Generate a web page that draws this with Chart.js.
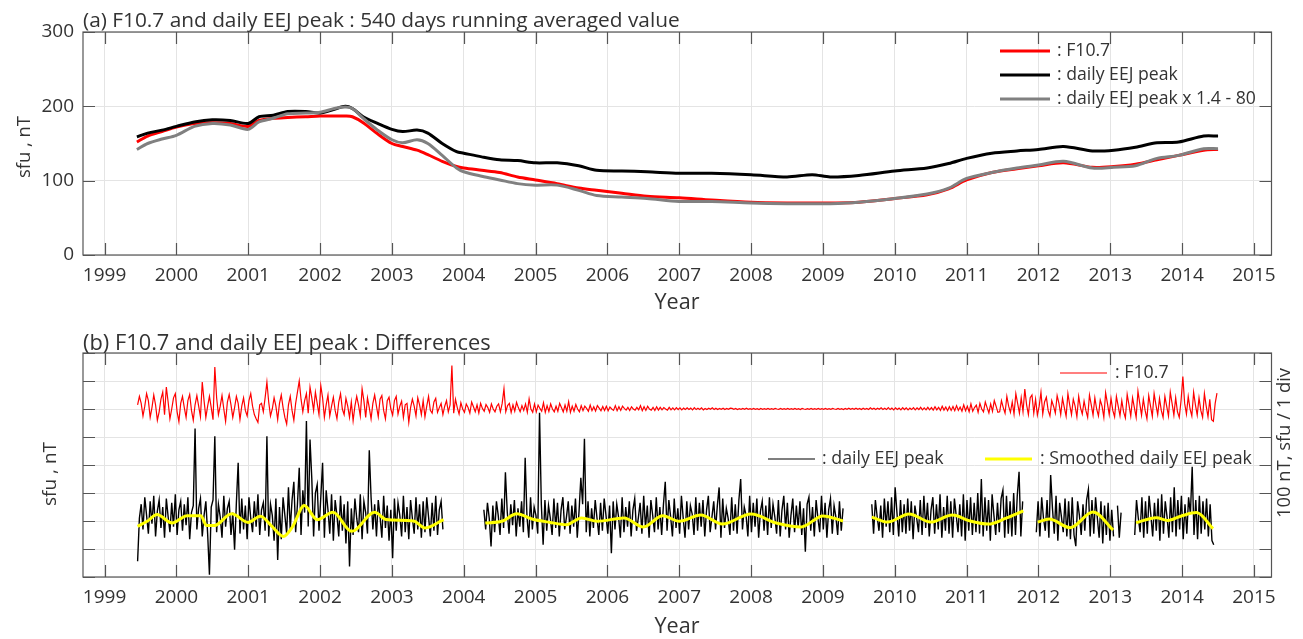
<!DOCTYPE html>
<html>
<head>
<meta charset="utf-8">
<script src="https://cdn.jsdelivr.net/npm/chart.js@4.4.1/dist/chart.umd.min.js"></script>
<style>
  html, body { margin: 0; padding: 0; background: #fff; }
  #wrap { position: relative; width: 1303px; height: 639px; overflow: hidden; }
  canvas { position: absolute; left: 0; }
  #topChart { top: 0; }
  #botChart { top: 320px; }
</style>
</head>
<body>
<div id="wrap">
  <canvas id="topChart" width="1303" height="320"></canvas>
  <canvas id="botChart" width="1303" height="319"></canvas>
</div>
<script>
// ---- data ----
const yearTicks = [1999, 2000, 2001, 2002, 2003, 2004, 2005, 2006, 2007, 2008, 2009, 2010, 2011, 2012, 2013, 2014, 2015];
const topYTicks = [0, 100, 200, 300];
const diffYTicks = [0, 100, 200, 300, 400, 500, 600, 700, 800];

// (a) 540 day running averages
const avgYears = [1999.45, 1999.6, 1999.8, 2000.0, 2000.25, 2000.5, 2000.75, 2001.0, 2001.15, 2001.35,
  2001.55, 2001.8, 2002.0, 2002.2, 2002.35, 2002.45, 2002.6, 2002.8, 2003.0, 2003.15,
  2003.35, 2003.5, 2003.7, 2003.9, 2004.0, 2004.25, 2004.5, 2004.75, 2005.0, 2005.3,
  2005.6, 2005.85, 2006.2, 2006.55, 2007.0, 2007.45, 2008.0, 2008.5, 2008.85, 2009.1,
  2009.5, 2010.0, 2010.45, 2010.75, 2011.0, 2011.35, 2011.7, 2012.0, 2012.35, 2012.75,
  2013.05, 2013.35, 2013.65, 2013.95, 2014.3, 2014.5];
const f107Avg = [152, 160, 166, 172, 177, 178, 177, 173, 181, 184,
  185, 186, 187, 187, 187, 186, 178, 163, 150, 146,
  141, 135, 126, 119, 117, 114, 111, 105, 101, 96,
  90, 87, 83, 79, 77, 74, 71, 70, 70, 70,
  71, 76, 81, 89, 101, 111, 116, 120, 124, 118,
  119, 122, 128, 134, 141, 142];
const eejAvg = [159, 164, 168, 173, 179, 182, 181, 177, 186, 188,
  193, 193, 191, 196, 200, 197, 186, 177, 169, 166,
  168, 164, 150, 139, 137, 132, 128, 127, 124, 124,
  120, 114, 113, 112, 110, 110, 108, 105, 108, 105,
  107, 113, 117, 123, 130, 137, 140, 142, 146, 140,
  141, 145, 151, 152, 160, 160];
const eejScaledAvg = [142, 150, 156, 161, 173, 177, 175, 169, 179, 184,
  190, 191, 192, 197, 199, 197, 184, 168, 155, 151,
  155, 150, 134, 117, 112, 106, 101, 96, 94, 94,
  87, 80, 78, 76, 72, 72, 70, 69, 69, 69,
  71, 76, 82, 90, 103, 111, 117, 121, 126, 117,
  118, 120, 130, 134, 143, 143];

// (b) differences, one value every 0.025 yr
const diffStep = 0.025;
const f107Start = 1999.46;
const f107Diff = [
  15, 45, 20, -25, 10, 55, 30, -30, 5, 50, 15, -40, -10, 35, 60, -20, 78, 25, -35, 0,
  40, 55, -10, -45, 20, 45, 5, -30, 30, 52, -5, -40, 15, 48, 10, -28, 96, 30, -30, 10,
  45, 5, -38, 150, 40, -20, 10, 48, 0, -44, 25, 52, 15, -30, 5, 45, 20, -38, 10, 40,
  -5, -25, 30, 55, 10, -20, -35, -48, 15, 20, -10, 40, 96, 25, -25, 0, 40, 10, -38, 20,
  50, 5, -30, -54, 15, 45, -5, -40, 20, 60, 100, 35, -10, 30, 55, -15, 78, 40, -5, 60,
  20, -20, 84, 40, -30, 15, 50, -25, 10, 42, -5, -35, 25, 55, 0, -20, 38, 10, -30, 25,
  -42, 10, 45, 15, -25, 72, 30, -30, 40, 5, -35, 20, 50, 10, -28, 35, 48, -5, -35, 30,
  42, 0, -22, 30, 45, -18, 10, 28, -30, 15, 20, -48, 5, 35, 10, -25, 40, 15, -20, 30,
  -28, 10, 45, -5, -15, 25, 38, -12, 5, 20, -20, 10, 30, -10, 15, 155, -15, 35, 5, -18,
  22, 0, -12, 18, 5, -15, 25, 8, -10, 15, -14, 20, 2, -8, 16, 5, -12, 18, 0, -10,
  10, 18, -10, 20, 72, -10, 12, 20, -12, 15, -8, 24, 5, -10, 12, -5, 18, -12, 36, 0,
  -12, 18, -10, 14, 2, -8, 22, -12, 12, -9, 18, 0, -10, 10, -8, 20, 5, -10, 14, -8,
  26, -12, 10, -8, 16, 0, -10, 12, -6, 10, 2, -8, 14, -6, 8, -7, 12, 3, -6, 9,
  -5, 10, -6, 7, 0, -5, 12, -6, 8, -5, 10, 2, -4, 6, -5, 8, 0, -4, 6, -3,
  12, -6, 8, -5, 10, 0, -4, 6, -5, 8, -4, 6, -3, 5, 0, -4, 6, -3, 4, -3,
  5, -2, 4, -3, 3, -2, 4, -2, 3, -3, 5, -2, 3, -2, 4, -3, 2, -2, 3, -1,
  4, -2, 3, -2, 2, -1, 3, -2, 2, -1, 3, 2, -1, 2, -2, 1, -1, 2, -1, 3,
  -1, 1, -1, 2, -1, 1, -2, 2, -1, 1, -1, 2, -1, 1, -1, 2, 0, -1, 2, -1,
  1, -1, 2, -1, 1, -1, 2, -1, 1, -2, 2, 0, -1, 1, -1, 2, -1, 1, -1, 2,
  -1, 1, -1, 2, -1, 1, -1, 2, 0, -1, 2, -1, 1, -2, 2, -1, 3, -1, 2, -1,
  3, -1, 2, -2, 3, -1, 2, -2, 4, -1, 3, -2, 3, -1, 4, -2, 3, -2, 5, -2,
  3, -3, 4, -2, 3, -3, 5, -2, 4, -3, 3, -2, 5, -3, 4, -2, 6, -3, 4, -3,
  6, -3, 5, -4, 8, -3, 6, -5, 10, -4, 7, -6, 8, -5, 9, -6, 12, -5, 7, -8,
  15, -6, 10, -10, 18, -8, 5, 14, -12, 20, 0, -10, 25, 5, -14, 18, -8, 30, 10, -12,
  -10, 30, 5, -15, 45, 10, -12, 25, -18, 55, 20, -15, 40, -10, 71, 15, -20, 40, 50, -15,
  35, -22, 10, 60, -18, 25, 42, -5, -25, 30, 10, -15, 48, 20, -20, 38, 5, -26, 55, 15,
  -20, 35, 10, -28, 45, 5, -18, 28, -5, -30, 50, 15, -22, 40, 0, -25, 32, 10, -30, 58,
  20, -20, 38, -5, -28, 45, 10, -24, 30, -10, -32, 52, 15, -25, 40, 5, -30, 64, 20, -22,
  35, -5, -35, 48, 10, -26, 55, 15, -20, 38, -5, -30, 45, 10, -25, 60, 20, -22, 40, -10,
  -30, 30, 116, 20, -18, 45, 0, -25, 60, 15, -22, 40, -5, -30, 55, 10, -28, 35, -38, -44,
  20, 57];

const eejSegStarts = [1999.46, 2004.28, 2009.68, 2011.97, 2013.10, 2013.34];
const eejDiff1 = [
  -144, 10, 60, -30, 85, 20, -45, 70, -10, 90, -55, 35, 75, -25, 50, -60, 80, 15, -40, 65,
  -20, 95, -50, 40, 70, -35, 60, -15, 85, -65, 30, 55, 330, -30, 45, 80, -55, 20, 70, -45,
  -192, 50, 75, 303, -40, 60, 15, -60, 90, -20, 45, 70, -50, 30, -103, 65, 208, -45, 80, -30,
  55, -65, 85, 10, -40, 70, -20, 95, -50, 40, 65, -35, 303, -55, 60, 20, -70, 80, -139, 50,
  -65, 85, 20, -45, 120, -30, 75, 140, -40, 60, 190, -50, 110, 30, 357, -20, 291, 150, -55, 100,
  130, -35, 85, 208, -60, 110, 40, -45, 95, -70, 75, 20, -55, 90, -35, 60, -80, 70, -162, 45,
  -50, 80, 10, -40, 95, -65, 70, 30, -45, 253, 85, -30, 60, -55, 75, 15, -60, 90, -25, 55,
  -70, 40, -133, 80, -35, 65, 20, -55, 90, -40, 50, -65, 75, 10, -45, 85, -30, 60, -60, 70,
  -40, 85, 15, -55, 65, -35, 90, -50, 40, 70, -30];
const eejDiff2 = [
  40, -30, 65, 10, -91, 55, -40, 70, 20, -50, 80, -25, 174, 35, -45, 60, -15, 75, -55, 45,
  -20, 70, -40, 226, 15, -60, 85, -30, 50, 20, -45, 387, 60, -85, 75, -35, 55, 10, -50, 80,
  -25, 65, -55, 40, 85, -30, 15, 70, -45, 55, -20, 80, -60, 35, 154, 60, 294, -40, 70, -55,
  45, -25, 75, 10, -50, 65, -35, 80, 20, -45, 55, -115, 70, -30, 60, 15, -60, 85, -40, 50,
  -20, 70, -55, 40, 80, -35, 10, 65, -45, 90, -25, 55, -60, 75, 20, -40, 85, -30, 50, -50,
  60, 140, -35, 75, 15, -55, 80, -25, 45, -45, 90, 10, -60, 70, -30, 55, 25, -50, 85, -35,
  65, -20, 75, -55, 40, 90, -40, 15, 70, -30, 55, 120, -60, 80, -25, 45, 10, -50, 85, -35,
  60, -45, 75, 150, -30, 50, 20, -55, 90, -40, 65, -20, 80, -60, 35, 70, -35, 55, -50, 85,
  -25, 60, 15, -45, 75, -55, 40, 90, -30, 65, -60, 20, 80, -40, 55, -25, 70, -50, 45, -110,
  60, 85, -35, 50, -55, 75, 10, -40, 90, -30, 65, -60, 40, 80, -45, 55, 15, -50, 70, -35,
  45];
const eejDiff3 = [
  60, -45, 75, 15, -35, 55, -60, 80, -20, 70, -40, 85, -50, 120, 30, -55, 75, -40, 60, -45,
  80, -35, 70, -65, 55, 10, -40, 75, -50, 90, -25, 65, -55, 40, 85, -45, 60, -30, 95, -60,
  50, -35, 90, -45, 70, -60, 80, 20, -40, 60, -55, 95, -70, 75, -35, 85, -50, 65, -40, 100,
  -45, 150, -55, 85, -35, 75, -70, 95, 20, -50, 65, -40, 80, 110, -60, 90, -45, 70, -55, 100,
  -50, 90, 176, -55, 70];
const eejDiff4 = [
  -40, 70, -55, 85, 10, -35, 75, -60, 164, 45, -45, 90, -70, 65, 15, -40, 80, -55, 70, -65,
  85, -50, -90, 70, 20, -50, 60, -35, 75, 113, -55, 75, -45, 85, 10, -60, 70, -80, 55, -50,
  65, -70, 40, -55];
const eejDiff5 = [55, -60, 30];
const eejDiff6 = [
  -50, 75, 10, -40, 85, -60, 70, -45, 90, 20, -55, 65, -35, 80, -70, 95, -45, 70, 15, -60,
  85, -40, 120, -55, 75, -30, 90, -65, 60, -45, 85, 25, 194, -50, 75, -65, 90, -45, 70, -30,
  80, -55, 60, -70, -85];

const smoothYears = [1999.46, 1999.6, 1999.73, 1999.94, 2000.15, 2000.34, 2000.42, 2000.53, 2000.77, 2001.0,
  2001.17, 2001.33, 2001.49, 2001.62, 2001.78, 2001.96, 2002.18, 2002.44, 2002.76, 2002.92, 2003.3, 2003.46, 2003.72, null,
  2004.3, 2004.53, 2004.74, 2004.95, 2005.2, 2005.43, 2005.64, 2005.86, 2006.23, 2006.5, 2006.77, 2007.0,
  2007.3, 2007.6, 2008.0, 2008.35, 2008.7, 2009.0, 2009.28, null,
  2009.68, 2009.9, 2010.2, 2010.5, 2010.8, 2011.05, 2011.3, 2011.55, 2011.79, null,
  2011.99, 2012.15, 2012.44, 2012.76, 2013.04, null,
  2013.36, 2013.64, 2013.8, 2013.99, 2014.2, 2014.43];
const smoothDiff = [-19, 0, 23, -7, 19, 19, -16, -16, 26, -5,
  17, -19, -55, -19, 55, 5, 31, -37, 31, 5, 0, -25, 5, null,
  -7, -1, 26, 7, -5, -13, 11, -1, 11, -21, 19, -1,
  21, -11, 25, -7, -21, 18, 0, null,
  14, -4, 25, -4, 21, 0, -11, 10, 36, null,
  -4, 7, -24, 32, -32, null,
  -6, 12, 2, 18, 30, -27];

const f107Base = 600;
const eejBase = 200;

// ---- look ----
const FONT = '"Open Sans", sans-serif';
const textColor = '#333';
const axisColor = '#555';
const gridColor = '#e4e4e4';
const tickLen = 12;
const xMin = 1998.7, xMax = 2015.244;

function fitSize(ctx, text, width) {
  ctx.font = '20px ' + FONT;
  return 20 * width / ctx.measureText(text).width;
}

function deco(cfg) {
  return {
    id: 'deco',
    afterDraw(chart) {
      const { ctx, chartArea: a, scales: { x, y } } = chart;
      ctx.save();
      ctx.strokeStyle = axisColor;
      ctx.lineWidth = 1.2;
      ctx.beginPath();
      x.ticks.forEach(t => {
        const p = Math.round(x.getPixelForValue(t.value)) + 0.5;
        ctx.moveTo(p, a.bottom); ctx.lineTo(p, a.bottom - tickLen);
        ctx.moveTo(p, a.top); ctx.lineTo(p, a.top + tickLen);
      });
      y.ticks.forEach(t => {
        const p = Math.round(y.getPixelForValue(t.value)) + 0.5;
        ctx.moveTo(a.left, p); ctx.lineTo(a.left + tickLen, p);
        ctx.moveTo(a.right, p); ctx.lineTo(a.right - tickLen, p);
      });
      ctx.stroke();
      ctx.strokeRect(a.left, a.top, a.right - a.left, a.bottom - a.top);

      ctx.fillStyle = textColor;
      cfg.texts.forEach(t => {
        const size = fitSize(ctx, t.text, t.w);
        ctx.font = size + 'px ' + FONT;
        ctx.save();
        ctx.translate(t.x, t.y);
        if (t.rot) ctx.rotate(-Math.PI / 2);
        ctx.textAlign = t.align || 'center';
        ctx.textBaseline = t.baseline || 'middle';
        ctx.fillText(t.text, 0, 0);
        ctx.restore();
      });

      const lgSize = fitSize(ctx, cfg.legendFit.text, cfg.legendFit.w);
      ctx.font = lgSize + 'px ' + FONT;
      ctx.textAlign = 'left';
      ctx.textBaseline = 'middle';
      cfg.legend.forEach(l => {
        ctx.strokeStyle = l.color;
        ctx.lineWidth = l.lw;
        ctx.beginPath();
        ctx.moveTo(l.x1, l.y); ctx.lineTo(l.x2, l.y);
        ctx.stroke();
        ctx.fillStyle = textColor;
        ctx.fillText(l.text, l.tx, l.y);
      });
      ctx.restore();
    }
  };
}

function xAxis(h) {
  return {
    type: 'linear', min: xMin, max: xMax,
    afterBuildTicks: s => { s.ticks = yearTicks.map(v => ({ value: v })); },
    afterFit: s => { s.height = h; },
    grid: { color: gridColor, drawTicks: false },
    border: { display: false },
    ticks: { font: { family: FONT, size: 19 }, color: textColor, padding: 9, maxRotation: 0, autoSkip: false,
      callback: v => String(v) }
  };
}

function yAxis(ticks, showLabels) {
  return {
    type: 'linear', min: ticks[0], max: ticks[ticks.length - 1],
    afterBuildTicks: s => { s.ticks = ticks.map(v => ({ value: v })); },
    afterFit: s => { s.width = 83; },
    grid: { color: gridColor, drawTicks: false },
    border: { display: false },
    ticks: { display: showLabels, font: { family: FONT, size: 19 }, color: textColor, padding: 9,
      callback: v => String(v) }
  };
}

const common = {
  responsive: false,
  devicePixelRatio: 1,
  animation: false,
  events: [],
  plugins: { legend: { display: false }, tooltip: { enabled: false } },
  elements: { point: { radius: 0 } }
};

// ---- (a) ----
const pts = (xs, ys) => xs.map((x, i) => ({ x: x, y: ys[i] }));

new Chart(document.getElementById('topChart'), {
  type: 'line',
  data: {
    datasets: [
      { data: pts(avgYears, f107Avg), borderColor: '#ff0000', borderWidth: 3, tension: 0.3, order: 3 },
      { data: pts(avgYears, eejAvg), borderColor: '#000000', borderWidth: 3, tension: 0.3, order: 2 },
      { data: pts(avgYears, eejScaledAvg), borderColor: '#808080', borderWidth: 3, tension: 0.3, order: 1 }
    ]
  },
  options: Object.assign({}, common, {
    layout: { padding: { left: 0, right: 31.5, top: 32, bottom: 0 } },
    scales: { x: xAxis(65), y: yAxis(topYTicks, true) }
  }),
  plugins: [deco({
    texts: [
      { text: '(a) F10.7 and daily EEJ peak : 540 days running averaged value', x: 83, y: 27, w: 597, align: 'left', baseline: 'alphabetic' },
      { text: 'Year', x: 677, y: 303, w: 45 },
      { text: 'sfu , nT', x: 25, y: 147, w: 62, rot: true }
    ],
    legendFit: { text: ': daily EEJ peak x 1.4 - 80', w: 199 },
    legend: [
      { x1: 1000, x2: 1050, y: 51, color: '#ff0000', lw: 3, text: ': F10.7', tx: 1057 },
      { x1: 1000, x2: 1050, y: 75, color: '#000000', lw: 3, text: ': daily EEJ peak', tx: 1057 },
      { x1: 1000, x2: 1050, y: 99, color: '#808080', lw: 3, text: ': daily EEJ peak x 1.4 - 80', tx: 1057 }
    ]
  })]
});

// ---- (b) ----
const f107Pts = f107Diff.map((v, i) => ({ x: f107Start + i * diffStep, y: f107Base + v }));
const eejPts = [];
[eejDiff1, eejDiff2, eejDiff3, eejDiff4, eejDiff5, eejDiff6].forEach((seg, k) => {
  if (k > 0) eejPts.push({ x: eejSegStarts[k] - 0.01, y: null });
  seg.forEach((v, i) => eejPts.push({ x: eejSegStarts[k] + i * diffStep, y: eejBase + v }));
});
const smoothPts = smoothYears.map((x, i) => ({ x: x, y: smoothDiff[i] === null ? null : eejBase + smoothDiff[i] }))
  .map((p, i, arr) => p.x === null ? { x: (arr[i - 1].x + arr[i + 1].x) / 2, y: null } : p);

new Chart(document.getElementById('botChart'), {
  type: 'line',
  data: {
    datasets: [
      { data: f107Pts, borderColor: '#ff0000', borderWidth: 1.2, tension: 0, order: 3 },
      { data: eejPts, borderColor: '#000000', borderWidth: 1.4, tension: 0, spanGaps: false, order: 2 },
      { data: smoothPts, borderColor: '#ffff00', borderWidth: 3, cubicInterpolationMode: 'monotone', spanGaps: false, order: 1 }
    ]
  },
  options: Object.assign({}, common, {
    layout: { padding: { left: 0, right: 31.5, top: 33, bottom: 0 } },
    scales: { x: xAxis(62), y: yAxis(diffYTicks, false) }
  }),
  plugins: [deco({
    texts: [
      { text: '(b) F10.7 and daily EEJ peak : Differences', x: 83, y: 29.5, w: 408, align: 'left', baseline: 'alphabetic' },
      { text: 'Year', x: 677, y: 307, w: 45 },
      { text: 'sfu , nT', x: 51, y: 154, w: 64, rot: true },
      { text: '100 nT, sfu / 1 div', x: 1285, y: 123, w: 150, rot: true }
    ],
    legendFit: { text: ': Smoothed daily EEJ peak', w: 212 },
    legend: [
      { x1: 1060, x2: 1107, y: 53, color: '#ff0000', lw: 1.2, text: ': F10.7', tx: 1115 },
      { x1: 768, x2: 815, y: 139, color: '#000000', lw: 1.2, text: ': daily EEJ peak', tx: 822 },
      { x1: 985, x2: 1032, y: 139, color: '#ffff00', lw: 3, text: ': Smoothed daily EEJ peak', tx: 1040 }
    ]
  })]
});
</script>
</body>
</html>
